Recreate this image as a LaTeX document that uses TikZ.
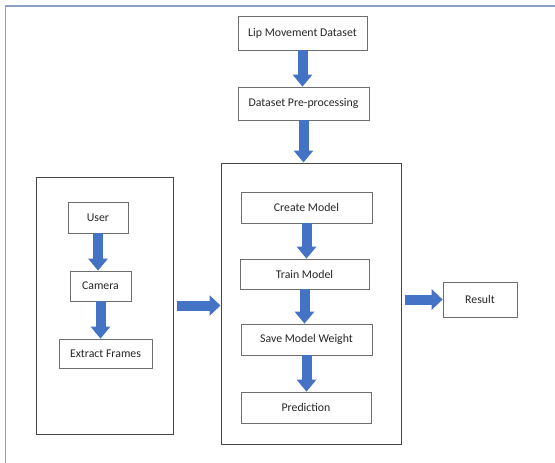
\documentclass[tikz,border=0pt]{standalone}
\usepackage{fontspec}
\setmainfont{Carlito}
\usetikzlibrary{arrows.meta}
\definecolor{frameblue}{RGB}{140,160,195}
\definecolor{arrowblue}{RGB}{68,114,196}
\definecolor{boxgray}{RGB}{110,110,110}
\definecolor{contgray}{RGB}{70,70,70}
\tikzset{
  stepbox/.style={draw=boxgray, line width=0.7pt, fill=white, inner sep=0pt,
    font=\fontsize{11.8}{13}\selectfont, text=black!85},
  container/.style={draw=contgray, line width=1pt, inner sep=0pt},
  blockarrow/.style={draw=arrowblue, line width=10pt,
    -{Triangle[width=19pt,length=12pt]}},
}
\begin{document}
\begin{tikzpicture}[x=1pt,y=-1pt]
\useasboundingbox (0,0) rectangle (555,463);
\clip (0,0) rectangle (555,463);
\draw[frameblue, line width=1.5pt] (5.5,6) rectangle (600,520);
% containers
\node[container, minimum width=137pt, minimum height=257pt] (left) at (104.5,305.5) {};
\node[container, minimum width=180pt, minimum height=281pt] (main) at (311,303.5) {};
% top chain
\node[stepbox, minimum width=129pt, minimum height=34pt] (lip) at (302.5,33) {Lip Movement Dataset};
\node[stepbox, minimum width=131pt, minimum height=33pt] (pre) at (303.5,103.5) {Dataset Pre-processing};
% left chain
\node[stepbox, minimum width=60pt, minimum height=31pt] (user) at (98,217.5) {User};
\node[stepbox, minimum width=61pt, minimum height=30pt] (cam) at (100.5,286) {Camera};
\node[stepbox, minimum width=93pt, minimum height=29pt] (ext) at (105.5,353.5) {Extract Frames};
% main chain
\node[stepbox, minimum width=131pt, minimum height=31pt] (create) at (306.5,207.5) {Create Model};
\node[stepbox, minimum width=129pt, minimum height=30pt] (train) at (304.5,274) {Train Model};
\node[stepbox, minimum width=131pt, minimum height=31pt] (save) at (306.5,339.5) {Save Model Weight};
\node[stepbox, minimum width=130pt, minimum height=31pt] (pred) at (306,407.5) {Prediction};
% result
\node[stepbox, minimum width=74pt, minimum height=35pt] (res) at (480,299.5) {Result};
% arrows
\draw[blockarrow] (lip.south) -- (lip.south |- pre.north);
\draw[blockarrow] (pre.south) -- (pre.south |- main.north);
\draw[blockarrow] (user.south) -- (user.south |- cam.north);
\draw[blockarrow] (cam.south) -- (cam.south |- ext.north);
\draw[blockarrow] (create.south) -- (create.south |- train.north);
\draw[blockarrow] (train.south) -- (train.south |- save.north);
\draw[blockarrow] (save.south) -- (save.south |- pred.north);
\draw[blockarrow, -{Triangle[width=20pt,length=11pt]}] ([xshift=3pt]left.east) -- (left.east -| main.west);
\draw[blockarrow, -{Triangle[width=20pt,length=11pt]}] ([xshift=3pt]main.east |- res.west) -- (res.west);
\end{tikzpicture}
\end{document}
